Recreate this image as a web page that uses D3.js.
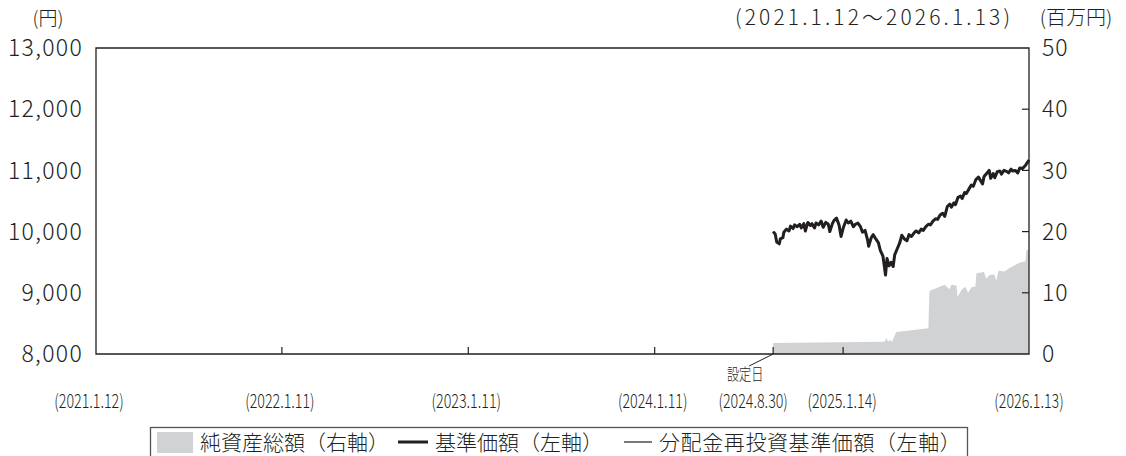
<!DOCTYPE html>
<html>
<head>
<meta charset="utf-8">
<script src="https://cdn.jsdelivr.net/npm/d3@7"></script>
<style>
  body { margin: 0; background: #fff; }
  svg { display: block; }
  text { font-family: "Noto Sans CJK JP", "Noto Sans", sans-serif; font-weight: 300; fill: #231f20; }
</style>
</head>
<body>
<svg width="1126" height="456"></svg>
<script>
// Data
const priceDates = ["2024-08-30","2024-09-03","2024-09-06","2024-09-11","2024-09-13","2024-09-18","2024-09-20","2024-09-25","2024-09-30","2024-10-03","2024-10-08","2024-10-11","2024-10-16","2024-10-21","2024-10-24","2024-10-29","2024-11-01","2024-11-06","2024-11-11","2024-11-14","2024-11-19","2024-11-22","2024-11-27","2024-12-02","2024-12-06","2024-12-11","2024-12-16","2024-12-19","2024-12-24","2024-12-27","2025-01-01","2025-01-06","2025-01-10","2025-01-15","2025-01-20","2025-01-24","2025-01-29","2025-02-03","2025-02-07","2025-02-12","2025-02-17","2025-02-21","2025-02-26","2025-03-03","2025-03-05","2025-03-10","2025-03-14","2025-03-19","2025-03-24","2025-03-28","2025-04-02","2025-04-07","2025-04-10","2025-04-14","2025-04-18","2025-04-22","2025-04-25","2025-04-30","2025-05-05","2025-05-09","2025-05-14","2025-05-19","2025-05-23","2025-05-28","2025-06-02","2025-06-06","2025-06-11","2025-06-16","2025-06-20","2025-06-25","2025-06-30","2025-07-04","2025-07-09","2025-07-14","2025-07-18","2025-07-23","2025-07-28","2025-08-01","2025-08-06","2025-08-11","2025-08-14","2025-08-19","2025-08-22","2025-08-27","2025-09-01","2025-09-04","2025-09-09","2025-09-12","2025-09-17","2025-09-22","2025-09-26","2025-10-01","2025-10-06","2025-10-09","2025-10-14","2025-10-17","2025-10-22","2025-10-27","2025-10-30","2025-11-04","2025-11-07","2025-11-12","2025-11-17","2025-11-20","2025-11-25","2025-12-01","2025-12-04","2025-12-09","2025-12-12","2025-12-17","2025-12-22","2025-12-26","2025-12-31","2026-01-06","2026-01-09","2026-01-13"];
const priceValues = [10000,9960,9830,9800,9880,9900,9990,10040,10010,10090,10050,10110,10080,10120,10060,10130,10010,10150,10100,10130,10060,10140,10110,10170,10070,10150,10120,10000,10130,10180,10220,10110,9920,10080,10190,10140,10170,10080,10120,10140,10080,9990,10020,9860,9760,9900,9950,9880,9820,9690,9600,9290,9560,9440,9500,9430,9620,9720,9820,9940,9880,9850,9950,9920,9980,10010,9980,10040,10020,10080,10120,10110,10170,10210,10200,10270,10300,10250,10410,10450,10400,10470,10440,10560,10580,10540,10640,10620,10690,10760,10740,10850,10890,10850,10780,10900,10950,11000,10870,10950,10880,10980,10990,10940,11000,10980,10960,11020,10990,11000,10960,11040,11030,11080,11120,11170];
// no distributions, so the reinvested series equals the price series
const reinvestValues = priceValues.slice();

const assetDates = ["2024-08-30","2025-04-05","2025-04-09","2025-04-12","2025-04-16","2025-04-20","2025-04-28","2025-06-30","2025-07-02","2025-07-22","2025-08-01","2025-08-10","2025-08-14","2025-08-24","2025-08-26","2025-09-03","2025-09-10","2025-09-16","2025-09-22","2025-09-30","2025-10-02","2025-10-17","2025-10-21","2025-10-28","2025-11-06","2025-11-10","2025-11-14","2025-11-26","2025-12-05","2025-12-25","2026-01-06","2026-01-08","2026-01-13"];
const assetValues = [1.8,2.0,2.6,2.0,2.3,2.0,3.6,4.2,10.3,11.0,11.3,10.6,11.3,11.2,9.3,10.5,11.0,10.0,10.9,11.0,13.2,13.4,12.3,12.9,13.0,12.0,13.6,13.5,14.0,14.9,15.1,17.0,17.0];

const leftTicks = [8000, 9000, 10000, 11000, 12000, 13000];
const rightTicks = [0, 10, 20, 30, 40, 50];
const xTickDates = ["2021-01-12","2022-01-11","2023-01-11","2024-01-11","2024-08-30","2025-01-14","2026-01-13"];
const xTickLabels = ["(2021.1.12)","(2022.1.11)","(2023.1.11)","(2024.1.11)","(2024.8.30)","(2025.1.14)","(2026.1.13)"];

const legendItems = ["純資産総額（右軸）", "基準価額（左軸）", "分配金再投資基準価額（左軸）"];

// Dimensions
const margin = { top: 48, right: 97, bottom: 102, left: 96 };
const width = 1126 - margin.left - margin.right;
const height = 456 - margin.top - margin.bottom;
const ink = "#231f20";

const parse = d3.timeParse("%Y-%m-%d");

const svg = d3.select("svg");
const g = svg.append("g")
    .attr("transform", `translate(${margin.left}, ${margin.top})`);

// Scales
const x = d3.scaleTime()
    .domain([parse(xTickDates[0]), parse(xTickDates[xTickDates.length - 1])])
    .range([0, width]);
const yLeft = d3.scaleLinear().domain([8000, 13000]).range([height, 0]);
const yRight = d3.scaleLinear().domain([0, 50]).range([height, 0]);

// Net assets area
const assets = assetDates.map((d, i) => ({ date: parse(d), v: assetValues[i] }));
g.append("path")
    .datum(assets)
    .attr("fill", "#d1d2d4")
    .attr("d", d3.area()
        .x(d => x(d.date))
        .y0(height)
        .y1(d => yRight(d.v)));

// Price lines
const price = priceDates.map((d, i) => ({ date: parse(d), v: priceValues[i] }));
const reinvest = priceDates.map((d, i) => ({ date: parse(d), v: reinvestValues[i] }));
const line = d3.line().x(d => x(d.date)).y(d => yLeft(d.v));

g.append("path")
    .datum(price)
    .attr("fill", "none")
    .attr("stroke", ink)
    .attr("stroke-width", 3)
    .attr("stroke-linejoin", "round")
    .attr("d", line);
g.append("path")
    .datum(reinvest)
    .attr("fill", "none")
    .attr("stroke", ink)
    .attr("stroke-width", 1)
    .attr("d", line);

// Frame
g.append("path")
    .attr("fill", "none")
    .attr("stroke", ink)
    .attr("stroke-width", 1.3)
    .attr("d", `M0,0H${width}V${height}H0Z`);

// Left axis labels
g.selectAll(".yl")
    .data(leftTicks)
    .enter().append("text")
    .attr("x", -13)
    .attr("y", d => yLeft(d))
    .attr("dy", "0.36em")
    .attr("text-anchor", "end")
    .attr("font-size", 23)
    .attr("letter-spacing", 1.3)
    .text(d3.format(","));

// Right axis ticks + labels
g.selectAll(".yr-tick")
    .data(rightTicks.slice(1, -1))
    .enter().append("line")
    .attr("x1", width - 7).attr("x2", width)
    .attr("y1", d => yRight(d)).attr("y2", d => yRight(d))
    .attr("stroke", ink).attr("stroke-width", 1.2);
g.selectAll(".yr")
    .data(rightTicks)
    .enter().append("text")
    .attr("x", width + 13)
    .attr("y", d => yRight(d))
    .attr("dy", "0.36em")
    .attr("font-size", 23)
    .attr("letter-spacing", 1)
    .text(d => d);

// X ticks (inward)
g.selectAll(".xt")
    .data(xTickDates.slice(1, -1))
    .enter().append("line")
    .attr("x1", d => x(parse(d))).attr("x2", d => x(parse(d)))
    .attr("y1", height - 7).attr("y2", height)
    .attr("stroke", ink).attr("stroke-width", 1.2);

// X labels (condensed)
const labelShift = [-7, -2, -2, -2, -20, -1, 0];
g.selectAll(".xl")
    .data(xTickDates)
    .enter().append("text")
    .attr("transform", (d, i) => `translate(${x(parse(d)) + labelShift[i]}, ${height + 54}) scale(0.75,1)`)
    .attr("text-anchor", "middle")
    .attr("font-size", 19)
    .text((d, i) => xTickLabels[i]);

// Inception marker
const incX = x(parse("2024-08-30"));
g.append("line")
    .attr("x1", incX).attr("y1", height)
    .attr("x2", incX - 24).attr("y2", height + 12)
    .attr("stroke", ink).attr("stroke-width", 1);
g.append("text")
    .attr("transform", `translate(${incX - 28}, ${height + 26}) scale(0.76,1)`)
    .attr("text-anchor", "middle")
    .attr("font-size", 16)
    .text("設定日");

// Unit labels
svg.append("text").attr("x", 48).attr("y", 25).attr("text-anchor", "middle")
    .attr("font-size", 19).text("(円)");
svg.append("text").attr("x", 735).attr("y", 25)
    .attr("font-size", 21)
    .attr("textLength", 275).attr("lengthAdjust", "spacing")
    .text("(2021.1.12〜2026.1.13)");
svg.append("text").attr("x", 1076).attr("y", 25).attr("text-anchor", "middle")
    .attr("font-size", 20).text("(百万円)");

// Legend
const lg = svg.append("g");
lg.append("rect")
    .attr("x", 150.5).attr("y", 427.5)
    .attr("width", 817).attr("height", 32)
    .attr("fill", "#fff").attr("stroke", "#555").attr("stroke-width", 1.3);
lg.append("rect")
    .attr("x", 157).attr("y", 432).attr("width", 36).attr("height", 21)
    .attr("fill", "#d1d2d4");
lg.append("text").attr("x", 200).attr("y", 450).attr("font-size", 21).text(legendItems[0]);
lg.append("line").attr("x1", 398).attr("x2", 428).attr("y1", 442).attr("y2", 442)
    .attr("stroke", ink).attr("stroke-width", 3);
lg.append("text").attr("x", 435).attr("y", 450).attr("font-size", 21).text(legendItems[1]);
lg.append("line").attr("x1", 624).attr("x2", 652).attr("y1", 442).attr("y2", 442)
    .attr("stroke", ink).attr("stroke-width", 1.2);
lg.append("text").attr("x", 659).attr("y", 450).attr("font-size", 21).attr("letter-spacing", 0.6).text(legendItems[2]);
</script>
</body>
</html>
